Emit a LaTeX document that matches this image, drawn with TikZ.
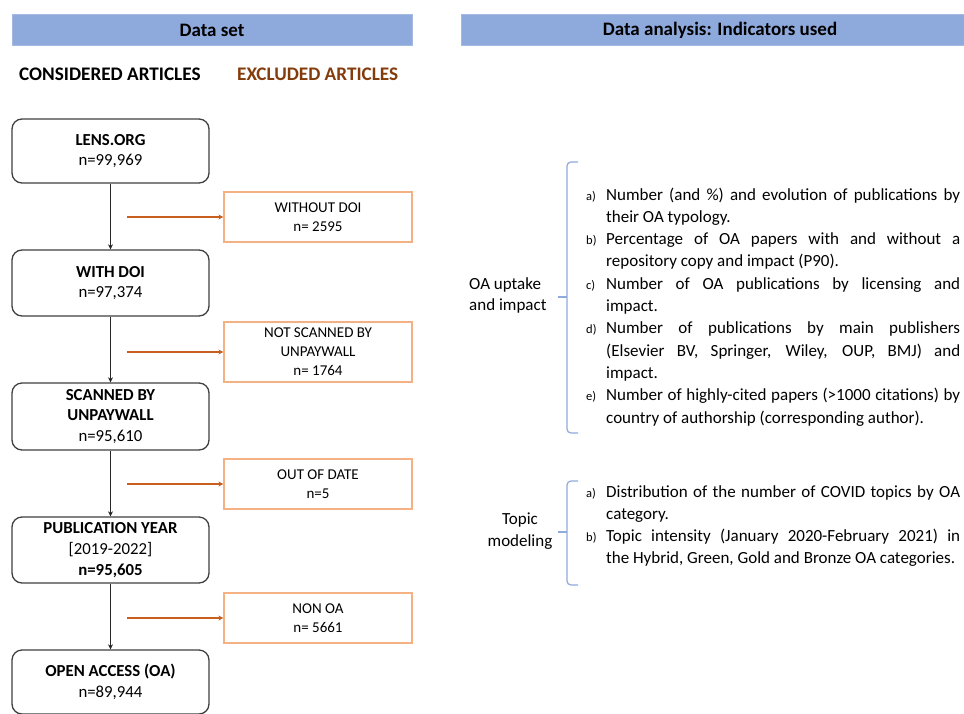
\documentclass[tikz,border=0pt]{standalone}
\usepackage{fontspec}
\setmainfont{Carlito}
\usetikzlibrary{positioning,arrows.meta}
\definecolor{barblue}{RGB}{142,169,219}
\definecolor{bracecol}{RGB}{143,170,220}
\definecolor{exline}{RGB}{244,177,131}
\definecolor{exarrow}{RGB}{200,95,30}
\definecolor{extext}{RGB}{132,60,12}
\begin{document}
\begin{tikzpicture}[x=1pt,y=-1pt,
	bar/.style={fill=barblue,draw=barblue!80!white,line width=0.6pt},
	bartext/.style={font=\fontsize{19}{22}\selectfont\bfseries},
	kept/.style={draw=black!75,line width=1.3pt,rounded corners=10pt,minimum width=197pt,align=center,inner sep=0pt,font=\fontsize{16.8}{20.8}\selectfont},
	excl/.style={draw=exline,line width=1.2pt,minimum width=188pt,align=center,inner sep=0pt,font=\fontsize{15}{19}\selectfont},
	keptarrow/.style={-{Stealth[length=5pt,width=5pt]},line width=1pt,black!85},
	exarr/.style={-{Stealth[length=5pt,width=5pt]},line width=1.5pt,exarrow},
	item/.style={anchor=base west,inner sep=0pt,text width=354pt,align=justify,font=\fontsize{17}{22.3}\selectfont},
	itemlabel/.style={anchor=base west,inner sep=0pt,font=\fontsize{12.5}{14}\selectfont},
	brace/.style={draw=bracecol,line width=1.2pt,rounded corners=4pt}]
	\clip (0,0) rectangle (964,713);
	\def\xk{110.5};
	\def\xe{318};
	\def\xl{586};
	\def\xt{606};
	\fill[white] (0,0) rectangle (964,713);
	\draw[bar] (12,14) rectangle (412,45);
	\node[bartext] (hdata) at (212,30) {Data set};
	\draw[bar] (461,14) rectangle (980,45);
	\node[bartext] (hana) at (720,30) {Data analysis: Indicators used};
	\node[anchor=west,inner sep=0pt,font=\fontsize{19.2}{22}\selectfont\bfseries] (considered) at (19,74) {CONSIDERED ARTICLES};
	\node[anchor=west,inner sep=0pt,text=extext,font=\fontsize{19.2}{22}\selectfont\bfseries] (excluded) at (237,74) {EXCLUDED ARTICLES};
	\node[kept,minimum height=64pt] (lens) at (\xk,151) {\textbf{LENS.ORG}\\n=99,969};
	\node[kept,minimum height=66pt] (doi) at (\xk,283) {\textbf{WITH DOI}\\n=97,374};
	\node[kept,minimum height=67pt] (scan) at (\xk,416.5) {\textbf{SCANNED BY}\\\textbf{UNPAYWALL}\\n=95,610};
	\node[kept,minimum height=66pt] (year) at (\xk,550) {\textbf{PUBLICATION YEAR}\\{}[2019-2022]\\\textbf{n=95,605}};
	\node[kept,minimum height=64pt] (oa) at (\xk,682) {\textbf{OPEN ACCESS (OA)}\\n=89,944};
	\node[excl,minimum height=50pt] (nodoi) at (\xe,217) {WITHOUT DOI\\n= 2595};
	\node[excl,minimum height=60pt] (noscan) at (\xe,352) {NOT SCANNED BY\\UNPAYWALL\\n= 1764};
	\node[excl,minimum height=50pt] (outdate) at (\xe,484) {OUT OF DATE\\n=5};
	\node[excl,minimum height=50pt] (nonoa) at (\xe,618) {NON OA\\n= 5661};
	\coordinate (s1) at (127,217);
	\coordinate (s2) at (127,352);
	\coordinate (s3) at (127,484);
	\coordinate (s4) at (127,618);
	\draw[keptarrow] (lens) -- (doi);
	\draw[keptarrow] (doi) -- (scan);
	\draw[keptarrow] (scan) -- (year);
	\draw[keptarrow] (year) -- (oa);
	\draw[exarr] (s1) -- (nodoi);
	\draw[exarr] (s2) -- (noscan);
	\draw[exarr] (s3) -- (outdate);
	\draw[exarr] (s4) -- (nonoa);
	\draw[brace] (578,162) -- (567,162) -- (567,433) -- (578,433);
	\draw[brace] (567,297) -- (558,297);
	\node[anchor=base west,inner sep=0pt,align=left,font=\fontsize{17}{21}\selectfont] (uptake) at (469,310) {OA uptake\\and impact};
	\node[itemlabel] (la) at (\xl,200) {a)};
	\node[item] (ia) at (\xt,200) {Number (and \%) and evolution of publications by\linebreak their OA typology.};
	\node[itemlabel] (lb) at (\xl,244.6) {b)};
	\node[item] (ib) at (\xt,244.6) {Percentage of OA papers with and without a\linebreak repository copy and impact (P90).};
	\node[itemlabel] (lc) at (\xl,289.2) {c)};
	\node[item] (ic) at (\xt,289.2) {Number of OA publications by licensing and\linebreak impact.};
	\node[itemlabel] (ld) at (\xl,333.8) {d)};
	\node[item] (id) at (\xt,333.8) {Number of publications by main publishers\linebreak (Elsevier BV, Springer, Wiley, OUP, BMJ) and\linebreak impact.};
	\node[itemlabel] (le) at (\xl,400.7) {e)};
	\node[item] (ie) at (\xt,400.7) {Number of highly-cited papers (>1000 citations) by\linebreak country of authorship (corresponding author).};
	\draw[brace] (578,481) -- (567,481) -- (567,585) -- (578,585);
	\draw[brace] (567,532) -- (558,532);
	\node[anchor=base,inner sep=0pt,align=center,font=\fontsize{17}{22}\selectfont] (topic) at (520,546) {Topic\\modeling};
	\node[itemlabel] (lta) at (\xl,497) {a)};
	\node[item] (ita) at (\xt,497) {Distribution of the number of COVID topics by OA\linebreak category.};
	\node[itemlabel] (ltb) at (\xl,541.6) {b)};
	\node[item] (itb) at (\xt,541.6) {Topic intensity (January 2020-February 2021) in\linebreak the Hybrid, Green, Gold and Bronze OA categories.};
\end{tikzpicture}
\end{document}
